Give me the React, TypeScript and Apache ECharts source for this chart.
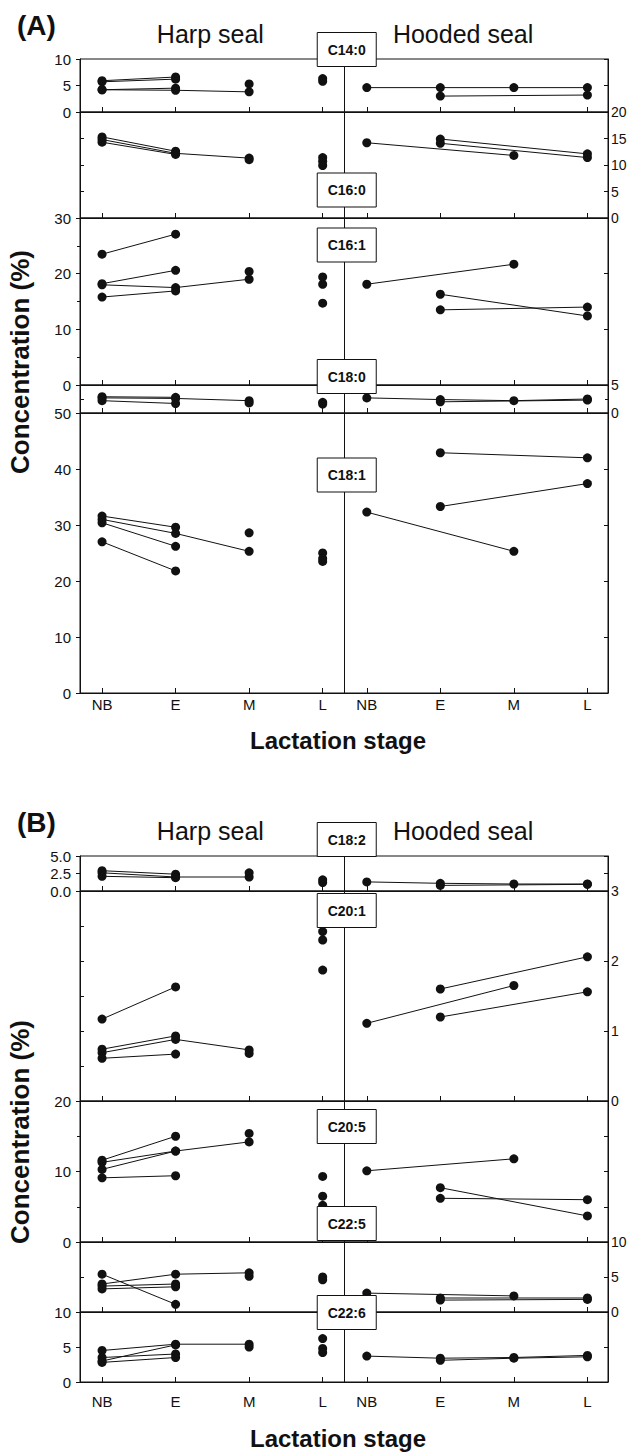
import React, { useEffect, useRef } from "react";
import * as echarts from "echarts";

// ---------- categories / ticks ----------
const STAGES = ["NB", "E", "M", "L"];
const HOODED_SHIFT = 3.6;
const X_MIN = -0.3;
const X_MAX = 6.88;
const DIVIDER_X = 3.3;

// ---------- data (one row = one female across NB, E, M, L; null = not sampled) ----------
// Panel A
const c140Harp = [
  [5.9, 6.6, null, null],
  [5.7, 6.2, null, null],
  [4.2, 4.5, null, null],
  [4.2, 4.1, 3.8, null],
  [null, null, 5.3, null],
  [null, null, null, 6.3],
  [null, null, null, 5.8],
];
const c140Hooded = [
  [4.6, 4.6, 4.6, 4.6],
  [null, 3.0, null, 3.2],
];
const c160Harp = [
  [15.3, 12.6, null, null],
  [14.8, 12.2, 11.3, null],
  [14.3, 12.0, null, null],
  [null, null, 11.0, null],
  [null, null, null, 11.4],
  [null, null, null, 10.7],
  [null, null, null, 9.9],
];
const c160Hooded = [
  [14.2, null, 11.8, null],
  [null, 14.9, null, 12.1],
  [null, 14.1, null, 11.4],
];
const c161Harp = [
  [23.5, 27.1, null, null],
  [18.2, 20.6, null, null],
  [18.0, 17.5, 19.0, null],
  [15.8, 16.9, null, null],
  [null, null, 20.4, null],
  [null, null, null, 19.4],
  [null, null, null, 18.1],
  [null, null, null, 14.7],
];
const c161Hooded = [
  [18.1, null, 21.7, null],
  [null, 16.3, null, 12.4],
  [null, 13.5, null, 14.0],
];
const c180Harp = [
  [2.9, 2.8, null, null],
  [2.7, 2.6, 2.2, null],
  [2.2, 1.7, null, null],
  [null, null, 1.8, null],
  [null, null, null, 1.9],
  [null, null, null, 1.6],
];
const c180Hooded = [
  [2.7, 2.4, 2.2, 2.5],
  [null, 2.0, null, 2.3],
];
const c181Harp = [
  [31.6, 29.6, null, null],
  [31.0, 28.5, 25.3, null],
  [30.4, 26.2, null, null],
  [27.0, 21.8, null, null],
  [null, null, 28.6, null],
  [null, null, null, 25.0],
  [null, null, null, 24.0],
  [null, null, null, 23.5],
];
const c181Hooded = [
  [32.3, null, 25.3, null],
  [null, 42.9, null, 42.0],
  [null, 33.3, null, 37.4],
];
// Panel B
const c182Harp = [
  [2.9, 2.4, null, null],
  [2.6, 2.0, 2.0, null],
  [2.1, 1.9, null, null],
  [null, null, 2.6, null],
  [null, null, null, 1.6],
  [null, null, null, 1.2],
];
const c182Hooded = [
  [1.3, 1.1, 1.0, 1.0],
  [null, 0.8, null, 0.95],
];
const c201Harp = [
  [1.17, 1.63, null, null],
  [0.74, 0.93, null, null],
  [0.69, 0.88, 0.73, null],
  [0.61, 0.67, null, null],
  [null, null, 0.68, null],
  [null, null, null, 2.42],
  [null, null, null, 2.3],
  [null, null, null, 1.87],
];
const c201Hooded = [
  [1.11, null, 1.65, null],
  [null, 1.6, null, 2.06],
  [null, 1.2, null, 1.56],
];
const c205Harp = [
  [11.6, 15.0, null, null],
  [11.3, 12.9, 14.2, null],
  [10.3, 12.9, null, null],
  [9.1, 9.4, null, null],
  [null, null, 15.4, null],
  [null, null, null, 9.3],
  [null, null, null, 6.5],
  [null, null, null, 5.2],
];
const c205Hooded = [
  [10.1, null, 11.8, null],
  [null, 7.7, null, 3.7],
  [null, 6.2, null, 6.0],
];
const c225Harp = [
  [5.4, 1.1, null, null],
  [4.0, 5.4, 5.6, null],
  [3.7, 4.0, null, null],
  [3.3, 3.6, null, null],
  [null, null, 5.1, null],
  [null, null, null, 5.0],
  [null, null, null, 4.6],
];
const c225Hooded = [
  [2.7, null, 2.3, null],
  [null, 2.0, null, 2.0],
  [null, 1.7, null, 1.8],
];
const c226Harp = [
  [4.5, 5.4, 5.4, null],
  [3.0, 5.3, null, null],
  [3.5, 4.0, null, null],
  [2.8, 3.5, null, null],
  [null, null, 5.0, null],
  [null, null, null, 6.2],
  [null, null, null, 4.8],
  [null, null, null, 4.2],
];
const c226Hooded = [
  [3.7, 3.4, 3.5, 3.8],
  [null, 3.1, 3.4, 3.6],
];

// ---------- layout ----------
const W = 629;
const H = 1452;
const GRID_LEFT = 80;
const GRID_RIGHT_EDGE = 608;
const FONT = '"Liberation Sans", Arial, sans-serif';
const INK = "#111";

type AxisSpec = { labels: boolean; interval: number; minor?: number; decimals?: number };
type PanelSpec = {
  name: string;
  top: number;
  height: number;
  max: number;
  harp: (number | null)[][];
  hooded: (number | null)[][];
  left: AxisSpec;
  right: AxisSpec;
  boxDy: number;
  xLabels: boolean;
  xLabelMargin: number;
};

const PANELS: PanelSpec[] = [
  { name: "C14:0", top: 59, height: 53, max: 10, harp: c140Harp, hooded: c140Hooded,
    left: { labels: true, interval: 5 }, right: { labels: false, interval: 5 }, boxDy: -9.5, xLabels: false, xLabelMargin: 4 },
  { name: "C16:0", top: 112, height: 106, max: 20, harp: c160Harp, hooded: c160Hooded,
    left: { labels: false, interval: 5 }, right: { labels: true, interval: 5 }, boxDy: 78, xLabels: false, xLabelMargin: 4 },
  { name: "C16:1", top: 218, height: 167, max: 30, harp: c161Harp, hooded: c161Hooded,
    left: { labels: true, interval: 10, minor: 2 }, right: { labels: false, interval: 10 }, boxDy: 27, xLabels: false, xLabelMargin: 4 },
  { name: "C18:0", top: 385, height: 28, max: 5, harp: c180Harp, hooded: c180Hooded,
    left: { labels: false, interval: 2.5 }, right: { labels: true, interval: 5, minor: 2 }, boxDy: -8.5, xLabels: false, xLabelMargin: 4 },
  { name: "C18:1", top: 413, height: 280, max: 50, harp: c181Harp, hooded: c181Hooded,
    left: { labels: true, interval: 10 }, right: { labels: false, interval: 10 }, boxDy: 62, xLabels: true, xLabelMargin: 4 },

  { name: "C18:2", top: 856, height: 35, max: 5, harp: c182Harp, hooded: c182Hooded,
    left: { labels: true, interval: 2.5, decimals: 1 }, right: { labels: false, interval: 2.5 }, boxDy: -16.5, xLabels: false, xLabelMargin: 12 },
  { name: "C20:1", top: 891, height: 210, max: 3, harp: c201Harp, hooded: c201Hooded,
    left: { labels: false, interval: 0.5 }, right: { labels: true, interval: 1 }, boxDy: 19.5, xLabels: false, xLabelMargin: 12 },
  { name: "C20:5", top: 1101, height: 141, max: 20, harp: c205Harp, hooded: c205Hooded,
    left: { labels: true, interval: 10, minor: 2 }, right: { labels: false, interval: 5 }, boxDy: 25.5, xLabels: false, xLabelMargin: 12 },
  { name: "C22:5", top: 1242, height: 70, max: 10, harp: c225Harp, hooded: c225Hooded,
    left: { labels: false, interval: 5 }, right: { labels: true, interval: 5 }, boxDy: -18.5, xLabels: false, xLabelMargin: 12 },
  { name: "C22:6", top: 1312, height: 70, max: 10, harp: c226Harp, hooded: c226Hooded,
    left: { labels: true, interval: 5 }, right: { labels: false, interval: 5 }, boxDy: 0.5, xLabels: true, xLabelMargin: 12 },
];

const X_TICKS = [...STAGES.map((_, i) => i), ...STAGES.map((_, i) => i + HOODED_SHIFT)];
const X_NAMES = [...STAGES, ...STAGES];

function buildOption() {
  const grid: any[] = [];
  const xAxis: any[] = [];
  const yAxis: any[] = [];
  const series: any[] = [];

  PANELS.forEach((p, i) => {
    grid.push({
      left: GRID_LEFT,
      right: W - GRID_RIGHT_EDGE,
      top: p.top,
      height: p.height,
      show: true,
      borderColor: INK,
      borderWidth: 1,
      backgroundColor: "transparent",
      containLabel: false,
      outerBoundsMode: "none",
    });
    xAxis.push({
      type: "value",
      gridIndex: i,
      position: "bottom",
      min: X_MIN,
      max: X_MAX,
      axisLine: { show: true, onZero: false, lineStyle: { color: INK, width: 1 } },
      axisTick: { show: true, inside: true, length: 5, customValues: X_TICKS, lineStyle: { color: INK } },
      axisLabel: {
        show: p.xLabels,
        customValues: X_TICKS,
        formatter: (v: number) => {
          const k = X_TICKS.findIndex((t) => Math.abs(t - v) < 1e-6);
          return k >= 0 ? X_NAMES[k] : "";
        },
        fontSize: 15,
        fontFamily: FONT,
        color: INK,
        margin: p.xLabelMargin,
      },
      splitLine: { show: false },
    });
    (["left", "right"] as const).forEach((side) => {
      const s = side === "left" ? p.left : p.right;
      yAxis.push({
        type: "value",
        gridIndex: i,
        position: side,
        min: 0,
        max: p.max,
        interval: s.interval,
        axisLine: { show: true, onZero: false, lineStyle: { color: INK, width: 1 } },
        axisTick: { show: true, inside: side === "right" || !s.labels, length: 4, lineStyle: { color: INK } },
        minorTick: s.minor
          ? { show: true, splitNumber: s.minor, length: 3, lineStyle: { color: INK } }
          : { show: false },
        axisLabel: {
          show: s.labels,
          fontSize: side === "left" ? 15 : 14,
          fontFamily: FONT,
          color: INK,
          margin: side === "left" ? 9 : 3,
          showMinLabel: true,
          showMaxLabel: true,
          formatter: (v: number) => (s.decimals ? v.toFixed(s.decimals) : String(v)),
        },
        splitLine: { show: false },
        minorSplitLine: { show: false },
      });
    });

    const addRows = (rows: (number | null)[][], shift: number, first: boolean) => {
      rows.forEach((row, r) => {
        const data = row
          .map((v, k) => (v == null ? null : [k + shift, v]))
          .filter((d) => d !== null);
        const s: any = {
          type: "line",
          xAxisIndex: i,
          yAxisIndex: 2 * i,
          data,
          symbol: "circle",
          symbolSize: 9,
          showSymbol: true,
          showAllSymbol: true,
          itemStyle: { color: INK },
          lineStyle: { color: INK, width: 1 },
          silent: true,
          z: 3,
        };
        if (first && r === 0) {
          s.markLine = {
            silent: true,
            symbol: ["none", "none"],
            label: { show: false },
            lineStyle: { color: INK, width: 1, type: "solid" },
            data: [{ xAxis: DIVIDER_X }],
          };
        }
        series.push(s);
      });
    };
    addRows(p.harp, 0, true);
    addRows(p.hooded, HOODED_SHIFT, false);
  });

  const plotW = GRID_RIGHT_EDGE - GRID_LEFT;
  const dividerPx = GRID_LEFT + ((DIVIDER_X - X_MIN) / (X_MAX - X_MIN)) * plotW;
  const harpCenter = GRID_LEFT + ((1.5 - X_MIN) / (X_MAX - X_MIN)) * plotW;
  const hoodCenter = GRID_LEFT + ((1.5 + HOODED_SHIFT - X_MIN) / (X_MAX - X_MIN)) * plotW;

  const graphic: any[] = [];
  PANELS.forEach((p) => {
    graphic.push({
      type: "group",
      x: dividerPx + 2,
      y: p.top + p.boxDy,
      z: 100,
      children: [
        { type: "rect", z: 100, shape: { x: -29.5, y: -17, width: 59, height: 34 }, style: { fill: "#fff", stroke: INK, lineWidth: 1 } },
        { type: "text", z: 101, style: { text: p.name, x: 0, y: 0, textAlign: "center", textVerticalAlign: "middle", font: `bold 14px ${FONT}`, fill: INK } },
      ],
    });
  });

  const panelHeads = [
    { letter: "(A)", top: PANELS[0].top, xTitleY: 740, yTitleY: 362 },
    { letter: "(B)", top: PANELS[5].top, xTitleY: 1438, yTitleY: 1132 },
  ];
  panelHeads.forEach((h) => {
    graphic.push({ type: "text", x: 17, y: h.top - 34, style: { text: h.letter, textAlign: "left", textVerticalAlign: "middle", font: `bold 28px ${FONT}`, fill: INK } });
    graphic.push({ type: "text", x: harpCenter - 2, y: h.top - 25, style: { text: "Harp seal", textAlign: "center", textVerticalAlign: "middle", font: `25px ${FONT}`, fill: INK } });
    graphic.push({ type: "text", x: hoodCenter - 14, y: h.top - 25, style: { text: "Hooded seal", textAlign: "center", textVerticalAlign: "middle", font: `25px ${FONT}`, fill: INK } });
    graphic.push({ type: "text", x: 338, y: h.xTitleY, style: { text: "Lactation stage", textAlign: "center", textVerticalAlign: "middle", font: `bold 24px ${FONT}`, fill: INK } });
    graphic.push({ type: "text", x: 20, y: h.yTitleY, rotation: Math.PI / 2, style: { text: "Concentration (%)", textAlign: "center", textVerticalAlign: "middle", font: `bold 26px ${FONT}`, fill: INK } });
  });

  return {
    animation: false,
    backgroundColor: "#fff",
    grid,
    xAxis,
    yAxis,
    series,
    graphic,
  };
}

export default function App() {
  const ref = useRef<HTMLDivElement>(null);
  useEffect(() => {
    document.body.style.margin = "0";
    if (!ref.current) return;
    const chart = echarts.init(ref.current, undefined, { renderer: "svg" });
    chart.setOption(buildOption() as any);
    return () => chart.dispose();
  }, []);
  return <div ref={ref} style={{ width: W, height: H }} />;
}
